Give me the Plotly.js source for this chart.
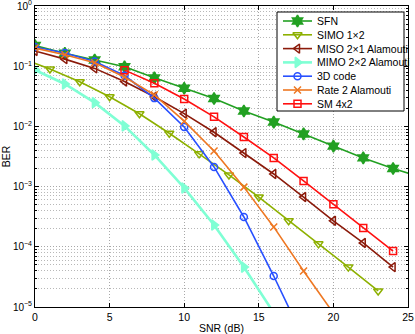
<!DOCTYPE html>
<html><head><meta charset="utf-8">
<script src="https://cdn.plot.ly/plotly-3.0.1.min.js"></script>
<style>html,body{margin:0;padding:0;background:#fff}#chart{width:415px;height:334px}</style>
</head><body><div id="chart"></div>
<script>
const sfnX = [0,2,4,6,8,10,12,14,16,18,20,22,24,26];
const sfnY = [0.22,0.164,0.127,0.098,0.064,0.043,0.029,0.018,0.0118,0.0075,0.0047,0.003,0.002,0.0014];
const simoX = [-1,1,3,5,7,9,11,13,15,17,19,21,23];
const simoY = [0.138,0.09,0.055,0.031,0.0162,0.0077,0.0035,0.00156,0.00067,0.00027,0.000112,0.000046,0.0000185];
const misoX = [0,2,4,6,8,10,12,14,16,18,20,22,24];
const misoY = [0.179,0.131,0.092,0.0555,0.031,0.0163,0.008,0.0036,0.00162,0.00067,0.00027,0.000116,0.000046];
const mimoX = [0,2,4,6,8,10,12,14,16];
const mimoY = [0.0865,0.0506,0.0248,0.0102,0.00335,0.00095,0.00023,0.000046,0.000008];
const codeX = [0,2,4,6,8,10,12,14,16,18];
const codeY = [0.209,0.166,0.12,0.07,0.0295,0.0098,0.00212,0.000313,0.0000327,0.000003];
const rateX = [0,2,4,6,8,10,12,14,16,18,20];
const rateY = [0.2,0.155,0.114,0.066,0.0335,0.0122,0.0039,0.00098,0.000214,0.0000396,0.0000079];
const smX = [6,8,10,12,14,16,18,20,22,24];
const smY = [0.086,0.052,0.0285,0.0144,0.00667,0.003,0.00124,0.00051,0.000205,0.000085];

const names = ['SFN','SIMO 1\u00d72','MISO 2\u00d71 Alamouti','MIMO 2\u00d72 Alamouti','3D code','Rate 2 Alamouti','SM 4x2'];
const xTicks = [0,5,10,15,20,25];
const yTickVals = [1e-5,1e-4,1e-3,1e-2,1e-1,1];
const yTickText = ['10<sup>\u22125</sup>','10<sup>\u22124</sup>','10<sup>\u22123</sup>','10<sup>\u22122</sup>','10<sup>\u22121</sup>','10<sup>0</sup>'];

const seriesX = [sfnX, simoX, misoX, mimoX, codeX, rateX, smX];
const seriesY = [sfnY, simoY, misoY, mimoY, codeY, rateY, smY];
const colors = ['#22a022','#8db000','#8b1a0a','#7fffd4','#2850ff','#ee7722','#ff1010'];
const symbols = ['hexagram','triangle-down-open','triangle-left-open','triangle-right','circle-open','x-thin-open','square-open'];
const sizes = [9, 8, 8, 9, 7, 7, 7];
const widths = [1.6, 1.6, 1.6, 2.6, 1.6, 1.6, 1.6];

const minorVals = [];
for (let e = -5; e < 0; e++) for (let m = 2; m <= 9; m++) minorVals.push(m * Math.pow(10, e));

const data = [];
for (let i = 0; i < names.length; i++) {
  data.push({
    x: seriesX[i], y: seriesY[i], name: names[i], type: 'scatter', mode: 'lines+markers',
    line: {color: colors[i], width: widths[i]},
    marker: {symbol: symbols[i], size: sizes[i], color: colors[i],
             line: {color: colors[i], width: 1.5}},
    cliponaxis: true, showlegend: false
  });
}

// custom legend drawn on a pixel-space overlay axis
const leg = {left: 277, right: 404, top: 12, bottom: 111, x0: 283, x1: 312, tx: 315, y0: 21, dy: 13.8};
data.push({
  x: [leg.left, leg.right, leg.right, leg.left, leg.left],
  y: [leg.top, leg.top, leg.bottom, leg.bottom, leg.top],
  xaxis: 'x2', yaxis: 'y2', mode: 'lines', fill: 'toself', fillcolor: '#fff',
  line: {color: '#000', width: 1}, showlegend: false, hoverinfo: 'skip', cliponaxis: false
});
const annotations = [];
for (let i = 0; i < names.length; i++) {
  const yy = leg.y0 + i * leg.dy;
  data.push({
    x: [leg.x0, (leg.x0 + leg.x1) / 2, leg.x1], y: [yy, yy, yy],
    xaxis: 'x2', yaxis: 'y2', mode: 'lines+markers', showlegend: false, hoverinfo: 'skip',
    line: {color: colors[i], width: widths[i]},
    marker: {symbol: symbols[i], size: sizes[i], color: colors[i], opacity: [0, 1, 0],
             line: {color: colors[i], width: 1.5}},
    cliponaxis: false
  });
  annotations.push({
    x: leg.tx, y: yy, xref: 'x2', yref: 'y2', xanchor: 'left', yanchor: 'middle',
    text: names[i], showarrow: false,
    font: {family: 'Liberation Sans, Arial, sans-serif', size: 10.5, color: '#000'}
  });
}

const font = {family: 'Liberation Sans, Arial, sans-serif', size: 10, color: '#000'};
const layout = {
  width: 415, height: 334,
  margin: {l: 35, r: 7, t: 6, b: 27},
  paper_bgcolor: '#fff', plot_bgcolor: '#fff',
  font: font,
  showlegend: false,
  annotations: annotations,
  xaxis: {
    range: [0, 25], tickmode: 'array', tickvals: xTicks,
    ticks: 'inside', ticklen: 4, tickcolor: '#000',
    showline: true, linecolor: '#000', linewidth: 1, mirror: 'ticks',
    showgrid: true, gridcolor: '#a8a8a8', griddash: '1px,2px', gridwidth: 1,
    zeroline: false, ticklabeloverflow: 'allow',
    title: {text: 'SNR (dB)', font: {size: 10.5}, standoff: 4},
    tickfont: {size: 10.5}
  },
  yaxis: {
    type: 'log', range: [-5, 0], tickmode: 'array',
    tickvals: yTickVals, ticktext: yTickText,
    ticks: 'inside', ticklen: 4, tickcolor: '#000',
    showline: true, linecolor: '#000', linewidth: 1, mirror: 'ticks',
    showgrid: true, gridcolor: '#a8a8a8', griddash: '1px,2px', gridwidth: 1,
    zeroline: false, ticklabeloverflow: 'allow',
    minor: {tickvals: minorVals, ticks: 'inside', ticklen: 2, tickcolor: '#000',
            showgrid: true, gridcolor: '#b8b8b8', griddash: '1px,2px', gridwidth: 1},
    title: {text: 'BER', font: {size: 10.5}, standoff: 4},
    tickfont: {size: 10}
  },
  xaxis2: {overlaying: 'x', anchor: 'y2', range: [35, 408], visible: false, fixedrange: true},
  yaxis2: {overlaying: 'y', anchor: 'x2', range: [307, 6], visible: false, fixedrange: true}
};

Plotly.newPlot('chart', data, layout, {displayModeBar: false, staticPlot: true});
</script>
</body></html>
